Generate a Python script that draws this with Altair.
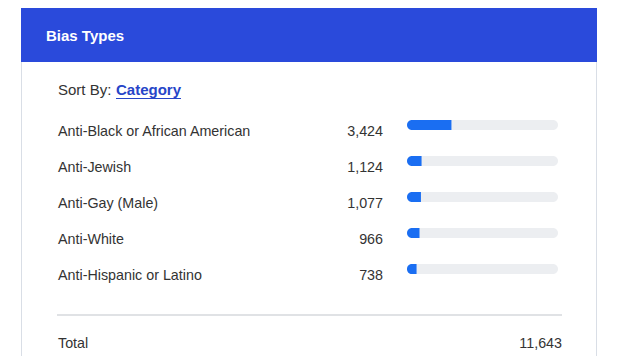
import altair as alt
import pandas as pd

# ---- data ----
TITLE = "Bias Types"
SORT_LABEL = "Sort By:"
SORT_VALUE = "Category"
categories = [
    "Anti-Black or African American",
    "Anti-Jewish",
    "Anti-Gay (Male)",
    "Anti-White",
    "Anti-Hispanic or Latino",
]
values = [3424, 1124, 1077, 966, 738]
TOTAL_LABEL = "Total"
TOTAL = 11643

# ---- style ----
FONT = "Liberation Sans"
HEADER_BLUE = "#2A4ADB"
LINK_BLUE = "#2645C8"
BAR_BLUE = "#1A6EF2"
TRACK = "#ECEEF1"
TEXT = "#333333"
BORDER = "#D9DEE6"
SEP = "#E0E2E5"

W, H = 608, 348

rows = pd.DataFrame({
    "category": categories,
    "value": values,
    "start": [0] * len(values),
    "total": [TOTAL] * len(values),
})
one = pd.DataFrame({"k": [0]})

yscale = alt.Scale(type="point", domain=categories, range=[117, 261], padding=0)
xscale = alt.Scale(domain=[0, TOTAL], range=[399, 550])

card_bg = alt.Chart(one).mark_rect(fill="white").encode(
    x=alt.value(13), x2=alt.value(589), y=alt.value(0), y2=alt.value(H))
left = alt.Chart(one).mark_rule(stroke=BORDER, strokeWidth=1).encode(
    x=alt.value(13.5), y=alt.value(0), y2=alt.value(H))
right = alt.Chart(one).mark_rule(stroke=BORDER, strokeWidth=1).encode(
    x=alt.value(588.5), y=alt.value(0), y2=alt.value(H))
header = alt.Chart(one).mark_rect(fill=HEADER_BLUE).encode(
    x=alt.value(13), x2=alt.value(589), y=alt.value(0), y2=alt.value(54))
title = alt.Chart(one).mark_text(
    text=TITLE, align="left", baseline="alphabetic", font=FONT, fontSize=15,
    fontWeight="bold", color="white").encode(x=alt.value(38), y=alt.value(33))

sort_label = alt.Chart(one).mark_text(
    text=SORT_LABEL, align="left", baseline="middle", font=FONT, fontSize=15,
    color=TEXT).encode(x=alt.value(50), y=alt.value(82))
sort_value = alt.Chart(one).mark_text(
    text=SORT_VALUE, align="left", baseline="middle", font=FONT, fontSize=15,
    fontWeight="bold", color=LINK_BLUE).encode(x=alt.value(108), y=alt.value(82))
underline = alt.Chart(one).mark_rule(stroke=LINK_BLUE, strokeWidth=1).encode(
    x=alt.value(108), x2=alt.value(173), y=alt.value(90.5))

base = alt.Chart(rows)
Y = alt.Y("category:N", scale=yscale, axis=None, sort=categories)

track = base.mark_bar(color=TRACK, size=10, cornerRadius=5).encode(
    x=alt.X("start:Q", scale=xscale, axis=None), x2="total:Q", y=Y)
fill = base.mark_bar(color=BAR_BLUE, size=10, cornerRadiusTopLeft=5,
                     cornerRadiusBottomLeft=5).encode(
    x=alt.X("start:Q", scale=xscale, axis=None), x2="value:Q", y=Y)
labels = base.mark_text(align="left", baseline="middle", font=FONT,
                        fontSize=14.3, color=TEXT, dy=6.5).encode(
    x=alt.value(50), y=Y, text="category:N")
nums = base.mark_text(align="right", baseline="middle", font=FONT,
                      fontSize=14.3, color=TEXT, dy=6.5).encode(
    x=alt.value(375), y=Y, text=alt.Text("value:Q", format=","))

sep = alt.Chart(one).mark_rule(stroke=SEP, strokeWidth=2).encode(
    x=alt.value(49), x2=alt.value(554), y=alt.value(307))
total_label = alt.Chart(one).mark_text(
    text=TOTAL_LABEL, align="left", baseline="middle", font=FONT, fontSize=14.3,
    color=TEXT).encode(x=alt.value(50), y=alt.value(336))
total_val = alt.Chart(pd.DataFrame({"v": [TOTAL]})).mark_text(
    align="right", baseline="middle", font=FONT, fontSize=14.3,
    color=TEXT).encode(x=alt.value(554), y=alt.value(336),
                       text=alt.Text("v:Q", format=","))

chart = alt.layer(
    card_bg, left, right, header, title, sort_label, sort_value, underline,
    track, fill, labels, nums, sep, total_label, total_val,
).properties(
    width=W, height=H, autosize=alt.AutoSizeParams(type="none"), padding=0,
    background="white",
).configure_view(stroke=None)

chart.save("out.html", embed_options={"renderer": "svg", "actions": False})
